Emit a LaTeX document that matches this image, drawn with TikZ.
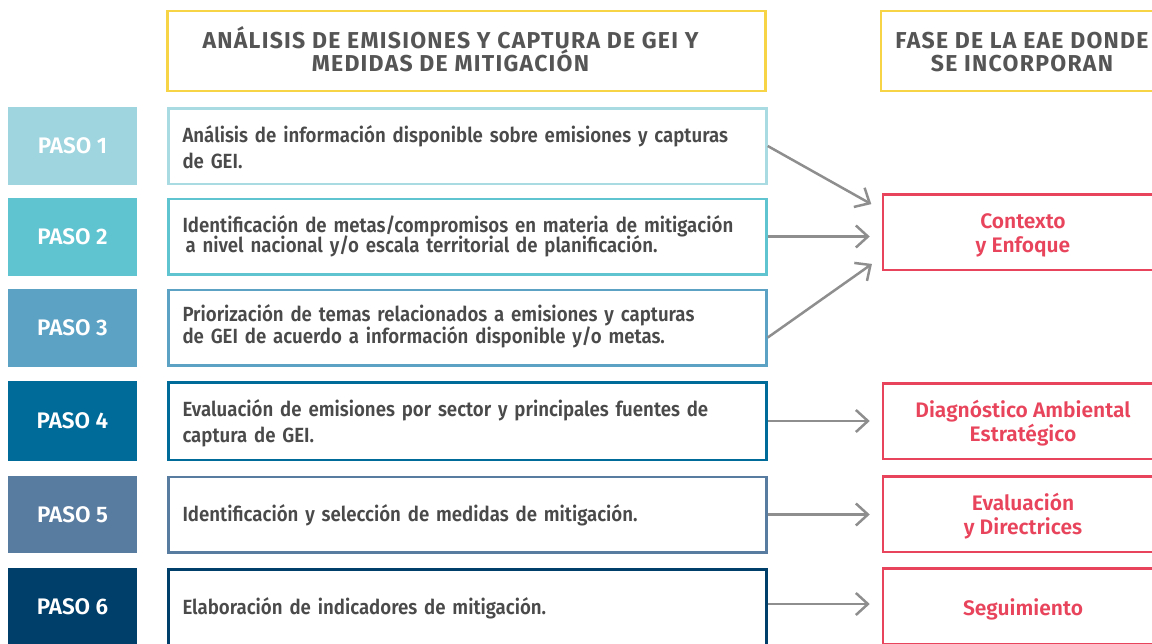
\documentclass[tikz,border=0pt]{standalone}
\usepackage{fontspec}
\setmainfont{Fira Sans}[BoldFont={Fira Sans SemiBold}]
\newfontfamily\narrowfont{Fira Sans}[FakeStretch=0.91,BoldFont={Fira Sans SemiBold}]
\newfontfamily\widefont{Fira Sans}[LetterSpace=5.5,BoldFont={Fira Sans Bold}]
\usetikzlibrary{arrows.meta,positioning}

\definecolor{pasoA}{HTML}{9ED5DF}
\definecolor{pasoB}{HTML}{5FC3D0}
\definecolor{pasoC}{HTML}{5BA2C5}
\definecolor{pasoD}{HTML}{006B98}
\definecolor{pasoE}{HTML}{587BA0}
\definecolor{pasoF}{HTML}{003F6A}
\definecolor{bordeA}{HTML}{A9DBE3}
\definecolor{rojo}{HTML}{E8455C}
\definecolor{amarillo}{HTML}{F6D445}
\definecolor{titgris}{HTML}{555555}
\definecolor{txtgris}{HTML}{4A4A4A}
\definecolor{flechagris}{HTML}{8E8E8E}

\begin{document}
\begin{tikzpicture}[x=1pt,y=-1pt,
  paso/.style={fill=#1,text=white,minimum width=129pt,minimum height=78pt,
    inner sep=0pt,font=\bfseries\fontsize{22.5}{26}\selectfont},
  tarea/.style={draw=#1,fill=white,line width=2.5pt,minimum width=598pt,
    minimum height=75.5pt,text width=570pt,align=left,text=txtgris,
    text height=0pt,text depth=8pt,
    font=\narrowfont\bfseries\fontsize{20.5}{26}\selectfont},
  titulo/.style={draw=amarillo,line width=2.5pt,minimum height=80pt,
    align=center,text=titgris,text height=40pt,text depth=0pt,
    font=\widefont\bfseries\fontsize{23}{23}\selectfont},
  fase/.style={draw=rojo,line width=2.5pt,minimum width=280pt,minimum height=75.5pt,
    align=center,text=rojo,text height=40pt,text depth=0pt,
    font=\bfseries\fontsize{21}{24}\selectfont},
  flecha/.style={draw=flechagris,line width=2.5pt,
    -{Straight Barb[length=12pt,width=22pt]},shorten >=12pt}]
\useasboundingbox (0,0) rectangle (1152,643);
\clip (0,0) rectangle (1152,643);
\path
(466.5,51) node[titulo,minimum width=598pt] (h1)
  {AN\'ALISIS DE EMISIONES Y CAPTURA DE GEI Y\hspace*{32pt}\\
   MEDIDAS DE MITIGACI\'ON\hspace*{32pt}}
(1022,51) node[titulo,minimum width=282pt] (h2) {FASE DE LA EAE DONDE\\SE INCORPORAN}
;
\path
(72.5,146)   node[paso=pasoA] (p1) {PASO 1}
+(395,0)     node[tarea=bordeA] (t1)
  {An\'alisis de informaci\'on disponible sobre emisiones y capturas\\de GEI.}
(72.5,236.5) node[paso=pasoB] (p2) {PASO 2}
+(395,0)     node[tarea=pasoB] (t2)
  {Identificaci\'on de metas/compromisos en materia de mitigaci\'on\\[-6.5pt]
   \hspace*{3pt}a nivel nacional y/o escala territorial de planificaci\'on.}
(72.5,327.5) node[paso=pasoC] (p3) {PASO 3}
+(395,0)     node[tarea=pasoC,text depth=11.5pt] (t3)
  {Priorizaci\'on de temas relacionados a emisiones y capturas\\[-4.5pt]
   de GEI de acuerdo a informaci\'on disponible y/o metas.}
(72.5,421)   node[paso=pasoD,minimum height=80pt] (p4) {PASO 4}
+(395,0)     node[tarea=pasoD,minimum height=77.5pt,text depth=8.5pt] (t4)
  {Evaluaci\'on de emisiones por sector y principales fuentes de\\captura de GEI.}
(72.5,514.5) node[paso=pasoE,minimum height=77pt] (p5) {PASO 5}
+(395,0)     node[tarea=pasoE,text height=14.5pt,text depth=0pt] (t5)
  {Identificaci\'on y selecci\'on de medidas de mitigaci\'on.}
(72.5,607)   node[paso=pasoF] (p6) {PASO 6}
+(395,0)     node[tarea=pasoF,text height=14pt,text depth=0pt] (t6)
  {Elaboraci\'on de indicadores de mitigaci\'on.}
;
\path
(1023,232) node[fase] (f1) {Contexto\\y Enfoque}
(1023,421) node[fase] (f2) {Diagn\'ostico Ambiental\\Estrat\'egico}
(1023,514) node[fase] (f3) {Evaluaci\'on\\y Directrices}
(1023,606) node[fase,text height=18pt] (f4) {Seguimiento}
;
\draw[flecha] (t1.east) -- ([yshift=22pt]f1.west);
\draw[flecha] (t2.east) -- (t2.east -| f1.west);
\draw[flecha] ([yshift=-10pt]t3.east) -- ([yshift=-25pt]f1.west);
\draw[flecha] (t4.east) -- (f2.west);
\draw[flecha] (t5.east) -- (t5.east -| f3.west);
\draw[flecha] ([yshift=3pt]t6.east) -- ([yshift=3pt]t6.east -| f4.west);
\end{tikzpicture}
\end{document}
